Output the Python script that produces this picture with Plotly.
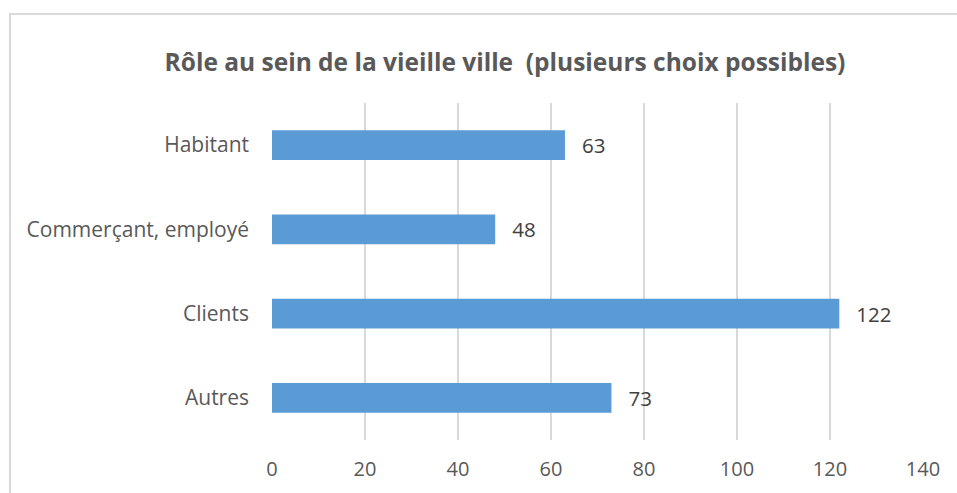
import plotly.graph_objects as go

categories = ["Habitant", "Commerçant, employé", "Clients", "Autres"]
values = [63, 48, 122, 73]
x_ticks = [0, 20, 40, 60, 80, 100, 120, 140]

title_text = "Rôle au sein de la vieille ville  (plusieurs choix possibles)"

W, H = 957, 493
L, R, T, B = 272, 34, 103, 53
pw = W - L - R
ph = H - T - B

fig = go.Figure()
fig.add_trace(go.Bar(
    y=categories, x=values, orientation="h",
    marker=dict(color="#5B9BD5", line=dict(width=0)),
    width=0.356,
    text=["\u00a0\u00a0\u2009" + str(v) for v in values], textposition="outside",
    constraintext="none",
    textfont=dict(size=20.5, color="#404040", family="Open Sans"),
    cliponaxis=False,
))

# chart-area border
fig.add_shape(type="rect", xref="paper", yref="paper",
              x0=(10 - L) / pw, x1=(990 - L) / pw,
              y0=(H - B - 520) / ph, y1=(H - B - 14) / ph,
              line=dict(color="#D9D9D9", width=2), fillcolor="rgba(0,0,0,0)", layer="below")

fig.update_layout(
    width=W, height=H,
    margin=dict(l=L, r=R, t=T, b=B),
    paper_bgcolor="white", plot_bgcolor="white",
    showlegend=False,
    font=dict(family="Open Sans", color="#595959", size=20),
    title=dict(text="<b>" + title_text + "</b>", x=505 / W, xanchor="center",
               y=1 - 62 / H, yanchor="middle",
               font=dict(size=24.5, color="#595959", family="Open Sans")),
    xaxis=dict(range=[0, 140], tickvals=x_ticks, showgrid=True, gridcolor="#D9D9D9",
               gridwidth=1.5, zeroline=False, showline=False, ticks="",
               ticklabelstandoff=15,
               tickfont=dict(size=20, color="#595959"), fixedrange=True),
    yaxis=dict(categoryorder="array", categoryarray=categories[::-1],
               showgrid=False, zeroline=False, showline=False, ticks="",
               ticklabelstandoff=22, tickfont=dict(size=21, color="#595959")),
)

fig.write_html("out.html")
